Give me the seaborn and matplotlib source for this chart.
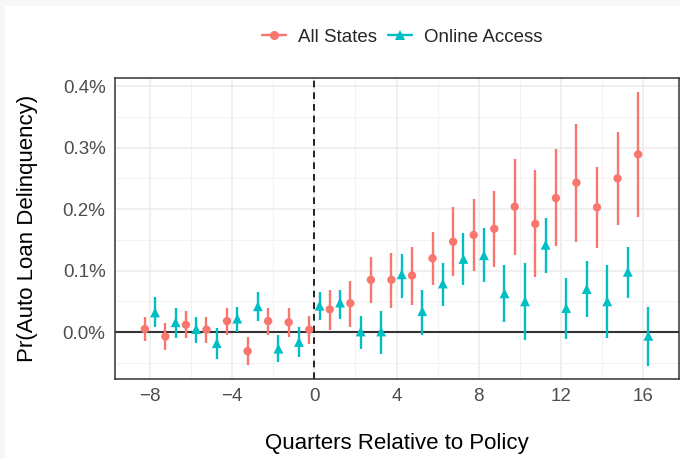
import matplotlib
matplotlib.use("Agg")
import matplotlib.pyplot as plt
from matplotlib.lines import Line2D
from matplotlib.patches import Rectangle
from matplotlib.ticker import FuncFormatter, MultipleLocator
import numpy as np
import pandas as pd
import seaborn as sns

# Event-study estimates (percentage points) by quarter relative to policy
quarters = list(range(-8, 17))

all_states_est = [0.005, -0.007, 0.012, 0.004, 0.018, -0.031, 0.018, 0.016, 0.004,
                  0.037, 0.047, 0.085, 0.085, 0.092, 0.120, 0.147, 0.158,
                  0.168, 0.204, 0.176, 0.218, 0.243, 0.203, 0.250, 0.289]
all_states_lo = [-0.015, -0.029, -0.010, -0.018, -0.004, -0.054, -0.005, -0.008, -0.019,
                 0.004, 0.009, 0.047, 0.040, 0.044, 0.077, 0.092, 0.099,
                 0.106, 0.125, 0.089, 0.140, 0.146, 0.136, 0.175, 0.188]
all_states_hi = [0.025, 0.015, 0.035, 0.024, 0.039, -0.008, 0.040, 0.040, 0.027,
                 0.068, 0.083, 0.122, 0.129, 0.138, 0.162, 0.203, 0.216,
                 0.229, 0.282, 0.263, 0.297, 0.339, 0.269, 0.325, 0.391]

online_est = [0.032, 0.016, 0.005, -0.018, 0.022, 0.042, -0.027, -0.016, 0.043,
              0.048, 0.001, 0.001, 0.094, 0.034, 0.079, 0.119, 0.125,
              0.063, 0.050, 0.142, 0.039, 0.070, 0.050, 0.098, -0.006]
online_lo = [0.008, -0.010, -0.018, -0.044, 0.001, 0.018, -0.049, -0.041, 0.020,
             0.022, -0.027, -0.036, 0.056, -0.005, 0.043, 0.076, 0.081,
             0.017, -0.012, 0.096, -0.011, 0.025, -0.009, 0.056, -0.055]
online_hi = [0.057, 0.039, 0.024, 0.006, 0.041, 0.065, -0.005, 0.009, 0.065,
             0.069, 0.026, 0.035, 0.127, 0.068, 0.112, 0.161, 0.169,
             0.109, 0.112, 0.185, 0.088, 0.115, 0.109, 0.139, 0.041]

groups = ["All States", "Online Access"]
colors = {"All States": "#F8766D", "Online Access": "#00BFC4"}
markers = {"All States": "o", "Online Access": "^"}
marker_area = {"All States": 36, "Online Access": 50}
dodge = {"All States": -0.25, "Online Access": 0.25}

df = pd.concat([
    pd.DataFrame({"quarter": quarters, "est": all_states_est, "lo": all_states_lo,
                  "hi": all_states_hi, "group": "All States"}),
    pd.DataFrame({"quarter": quarters, "est": online_est, "lo": online_lo,
                  "hi": online_hi, "group": "Online Access"}),
], ignore_index=True)
df["xpos"] = df["quarter"] + df["group"].map(dodge)

sns.set_theme(style="white")
plt.rcParams["font.family"] = ["Liberation Sans", "DejaVu Sans"]

fig = plt.figure(figsize=(6.8, 4.59), dpi=100)
fig.patch.set_facecolor("white")
ax = fig.add_axes([115 / 680, 1 - 378.5 / 459, (679 - 115) / 680, (378.5 - 77.7) / 459])

# faint frame strip along the top and left edges
fig.patches.append(Rectangle((0, 0), 5 / 680, 1, transform=fig.transFigure,
                             facecolor="#F7F7F7", edgecolor="none", zorder=-10))
fig.patches.append(Rectangle((0, 1 - 6 / 459), 1, 6 / 459, transform=fig.transFigure,
                             facecolor="#F7F7F7", edgecolor="none", zorder=-10))

ax.set_xlim(-9.7, 17.74)
ax.set_ylim(-0.0754, 0.4137)

# grid (major + minor)
ax.xaxis.set_major_locator(MultipleLocator(4))
ax.xaxis.set_minor_locator(MultipleLocator(2))
ax.yaxis.set_major_locator(MultipleLocator(0.1))
ax.yaxis.set_minor_locator(MultipleLocator(0.05))
ax.grid(True, which="major", color="#EBEBEB", linewidth=1.1, zorder=0)
ax.grid(True, which="minor", color="#F2F2F2", linewidth=0.7, zorder=0)
ax.set_axisbelow(True)

ax.axhline(0, color="#333333", linewidth=1.5, zorder=1)
ax.axvline(0, color="black", linewidth=1.2, linestyle=(0, (4, 3)), zorder=1)

for g in groups:
    sub = df[df["group"] == g]
    ax.vlines(sub["xpos"], sub["lo"], sub["hi"], colors=colors[g], linewidth=1.7, zorder=2)
    sns.scatterplot(data=sub, x="xpos", y="est", color=colors[g], marker=markers[g],
                    s=marker_area[g], edgecolor="none", linewidth=0, legend=False,
                    ax=ax, zorder=3)

ax.yaxis.set_major_formatter(FuncFormatter(lambda v, p: f"{v:.1f}%"))
ax.tick_params(axis="both", which="major", labelsize=13.5, labelcolor="#4D4D4D",
               color="#333333", length=3.8, width=1.0, pad=3)
ax.tick_params(axis="both", which="minor", length=0)
for s in ax.spines.values():
    s.set_color("#333333")
    s.set_linewidth(1.1)

ax.set_xlabel("Quarters Relative to Policy", fontsize=16, color="black", labelpad=20)
ax.set_ylabel("Pr(Auto Loan Delinquency)", fontsize=16, color="black", labelpad=18)

handles = [Line2D([0], [0], color=colors[g], marker=markers[g],
                  markersize=6.5 if g == "All States" else 7.5,
                  linewidth=1.7, markeredgewidth=0) for g in groups]
fig.legend(handles, groups, loc="center", bbox_to_anchor=(402 / 680, 1 - 37 / 459),
           ncol=2, frameon=False, fontsize=13.5, handlelength=1.3, handletextpad=0.6,
           columnspacing=0.6)

fig.savefig("out.png", dpi=100, facecolor="white")
